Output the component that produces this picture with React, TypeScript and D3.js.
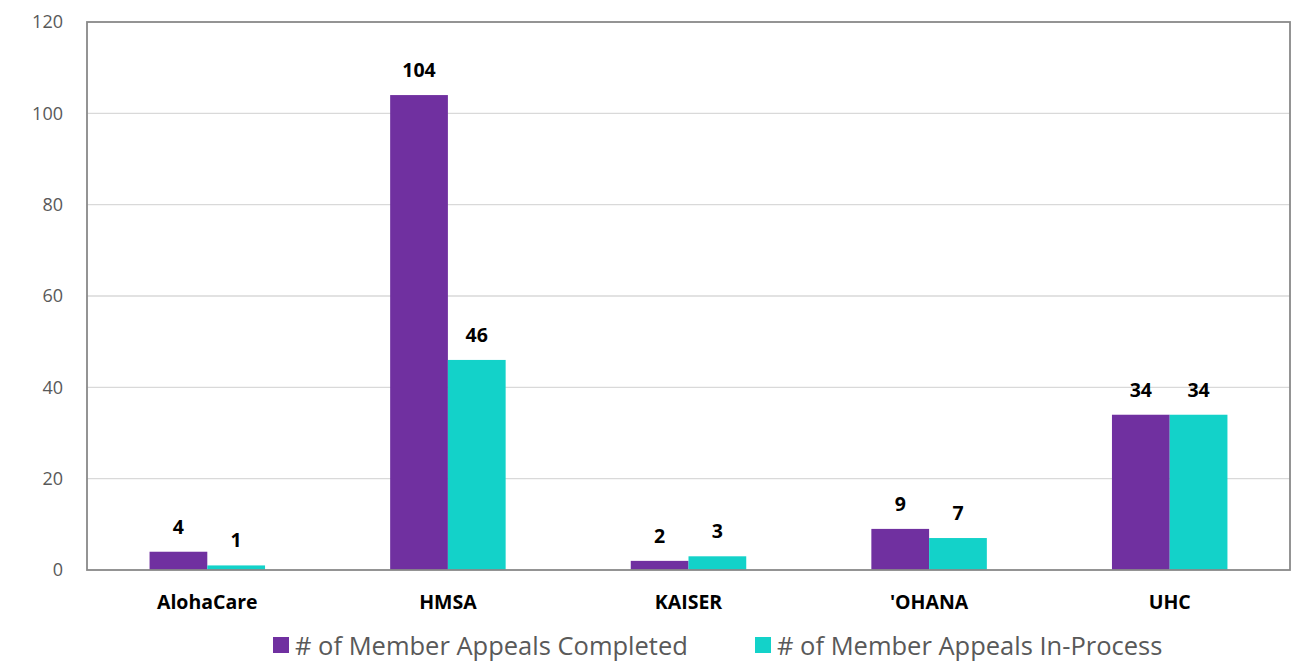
import React from "react";
import * as d3 from "d3";

const categories = ["AlohaCare", "HMSA", "KAISER", "'OHANA", "UHC"];
const seriesNames = ["# of Member Appeals Completed", "# of Member Appeals In-Process"];
const completed = [4, 104, 2, 9, 34];
const inProcess = [1, 46, 3, 7, 34];
const yTicks = [0, 20, 40, 60, 80, 100, 120];
const colors = ["#7030A0", "#13D2C9"];

const width = 1298;
const height = 667;
const margin = { top: 22, right: 8, bottom: 97, left: 87 };
const font = "'Open Sans', Lato, sans-serif";

export default function App() {
  const x0 = d3
    .scaleBand()
    .domain(categories)
    .range([margin.left, width - margin.right])
    .paddingInner(0.52)
    .paddingOuter(0.26);
  const x1 = d3.scaleBand().domain(["0", "1"]).range([0, x0.bandwidth()]);
  const y = d3
    .scaleLinear()
    .domain([0, 120])
    .range([height - margin.bottom, margin.top]);

  const series = [completed, inProcess];

  return (
    <svg
      width={width}
      height={height}
      style={{ position: "absolute", left: 0, top: 0 }}
    >
      {yTicks.map((t) => (
        <g key={t}>
          {t > 0 && t < 120 && (
            <line
              x1={margin.left}
              x2={width - margin.right}
              y1={y(t)}
              y2={y(t)}
              stroke="#d9d9d9"
              strokeWidth={1.3}
            />
          )}
          <text
            x={63}
            y={y(t)}
            dy="0.35em"
            textAnchor="end"
            fontFamily={font}
            fontSize={18}
            fill="#595959"
          >
            {t}
          </text>
        </g>
      ))}

      {series.map((vals, si) =>
        vals.map((v, i) => {
          const bx = (x0(categories[i]) as number) + (x1(String(si)) as number);
          return (
            <g key={`${si}-${i}`}>
              <rect
                x={bx}
                y={y(v)}
                width={x1.bandwidth()}
                height={y(0) - y(v)}
                fill={colors[si]}
              />
              <text
                x={bx + x1.bandwidth() / 2}
                y={y(v) - 18}
                textAnchor="middle"
                fontFamily={font}
                fontWeight="bold"
                fontSize={19.5}
                fill="#000"
              >
                {v}
              </text>
            </g>
          );
        })
      )}

      <rect
        x={margin.left}
        y={margin.top}
        width={width - margin.right - margin.left}
        height={height - margin.bottom - margin.top}
        fill="none"
        stroke="#898989"
        strokeWidth={1.8}
      />

      {categories.map((c) => (
        <text
          key={c}
          x={(x0(c) as number) + x0.bandwidth() / 2}
          y={609}
          textAnchor="middle"
          fontFamily={font}
          fontWeight="bold"
          fontSize={19.5}
          fill="#000"
        >
          {c}
        </text>
      ))}

      {seriesNames.map((name, i) => {
        const lx = [273, 755][i];
        return (
          <g key={name}>
            <rect x={lx} y={637} width={16} height={16} fill={colors[i]} />
            <text
              x={lx + 22}
              y={655}
              fontFamily={font}
              fontSize={25.5}
              fill="#595959"
            >
              {name}
            </text>
          </g>
        );
      })}
    </svg>
  );
}
